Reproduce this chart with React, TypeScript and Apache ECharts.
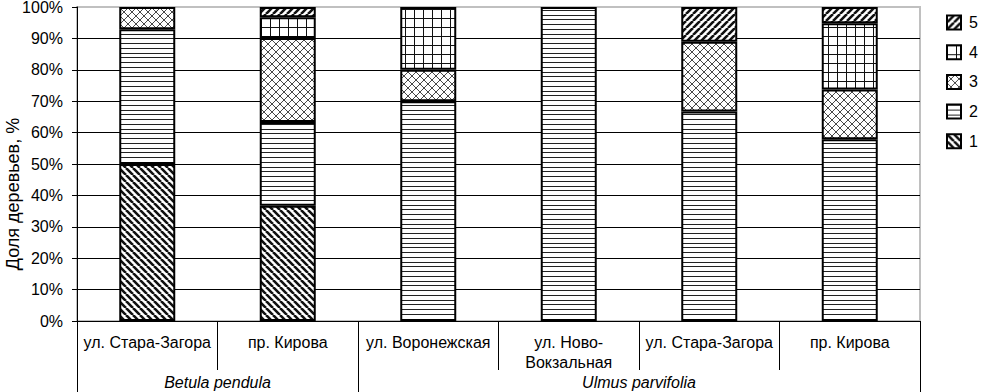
import React, { useEffect, useRef } from "react";
import * as echarts from "echarts";

const categories = [
  "ул. Стара-Загора",
  "пр. Кирова",
  "ул. Воронежская",
  "ул. Ново-\nВокзальная",
  "ул. Стара-Загора",
  "пр. Кирова",
];
const groupLabels = ["Betula pendula", "Ulmus parvifolia"];
const seriesNames = ["1", "2", "3", "4", "5"];
const s1 = [50, 36.7, null, null, null, null];
const s2 = [42.9, 26.7, 70, 100, 66.7, 57.9];
const s3 = [7.1, 26.7, 10, null, 22.2, 15.8];
const s4 = [null, 6.6, 20, null, null, 21.1];
const s5 = [null, 3.3, null, null, 11.1, 5.2];
const yTicks = [0, 10, 20, 30, 40, 50, 60, 70, 80, 90, 100];

const FONT = "'Liberation Sans', Arial, sans-serif";

function makePattern(w: number, h: number, draw: (ctx: CanvasRenderingContext2D) => void) {
  const c = document.createElement("canvas");
  c.width = w;
  c.height = h;
  const ctx = c.getContext("2d")!;
  ctx.fillStyle = "#fff";
  ctx.fillRect(0, 0, w, h);
  draw(ctx);
  return { image: c, repeat: "repeat" } as any;
}

export default function App() {
  const ref = useRef<HTMLDivElement>(null);
  useEffect(() => {
    if (!ref.current) return;
    const chart = echarts.init(ref.current, undefined, { renderer: "svg" });

    const diag = (dir: number, s: number, lw: number, col: string) =>
      makePattern(s, s, (ctx) => {
        ctx.strokeStyle = col;
        ctx.lineWidth = lw;
        ctx.beginPath();
        for (const k of [-1, 0, 1]) {
          if (dir > 0) {
            ctx.moveTo(k * s, 0);
            ctx.lineTo(k * s + s, s);
          } else {
            ctx.moveTo(k * s, s);
            ctx.lineTo(k * s + s, 0);
          }
        }
        ctx.stroke();
      });

    const p1 = diag(1, 7, 2.6, "#111");
    const p5 = diag(-1, 7, 2.6, "#111");
    const p2 = makePattern(4, 19, (ctx) => {
      ctx.fillStyle = "#222";
      for (const y of [0, 5, 10, 15]) ctx.fillRect(0, y, 4, 1);
    });
    const p3 = makePattern(8, 8, (ctx) => {
      ctx.strokeStyle = "#333";
      ctx.lineWidth = 0.9;
      ctx.beginPath();
      for (const k of [-1, 0, 1]) {
        ctx.moveTo(k * 8, 0);
        ctx.lineTo(k * 8 + 8, 8);
        ctx.moveTo(k * 8, 8);
        ctx.lineTo(k * 8 + 8, 0);
      }
      ctx.stroke();
    });
    const p4 = makePattern(9, 9, (ctx) => {
      ctx.fillStyle = "#111";
      ctx.fillRect(0, 0, 9, 1);
      ctx.fillRect(0, 0, 1, 9);
    });
    const patterns = [p1, p2, p3, p4, p5];
    const data = [s1, s2, s3, s4, s5];

    const splitColors = yTicks.map((v) => (v === 100 ? "#c0c0c0" : "#000"));

    chart.setOption({
      animation: false,
      textStyle: { fontFamily: FONT },
      grid: {
        left: 77,
        right: 61,
        top: 7,
        bottom: 71,
        outerBoundsMode: "none",
        containLabel: false,
        show: true,
        borderColor: "#c0c0c0",
        borderWidth: 2,
        backgroundColor: "transparent",
      },
      legend: {
        orient: "vertical",
        left: 941,
        top: 9.5,
        itemWidth: 14,
        itemHeight: 14,
        itemGap: 13.7,
        data: ["5", "4", "3", "2", "1"],
        icon: "rect",
        itemStyle: { borderColor: "#000", borderWidth: 2 },
        textStyle: { fontSize: 16, color: "#000", fontFamily: FONT, padding: [0, 0, 0, 3] },
      },
      xAxis: [
        {
          type: "category",
          data: categories,
          axisLine: { lineStyle: { color: "#000", width: 1 } },
          axisTick: { show: true, length: 49, interval: 0, lineStyle: { color: "#000" } },
          axisLabel: {
            interval: 0,
            color: "#000",
            fontSize: 16,
            fontFamily: FONT,
            margin: 11,
            lineHeight: 20,
          },
          splitLine: { show: false },
        },
        {
          type: "value",
          position: "bottom",
          min: 0,
          max: 6,
          axisLine: { show: false },
          axisTick: {
            show: true,
            length: 71,
            customValues: [0, 2, 6],
            lineStyle: { color: "#000" },
          },
          axisLabel: {
            customValues: [1, 4],
            formatter: (v: number) => (v === 1 ? groupLabels[0] : groupLabels[1]),
            color: "#000",
            fontSize: 16,
            fontStyle: "italic",
            fontFamily: FONT,
            margin: 53,
          },
          splitLine: { show: false },
        },
      ],
      yAxis: {
        type: "value",
        min: 0,
        max: 100,
        interval: 10,
        name: "Доля деревьев, %",
        nameLocation: "middle",
        nameGap: 55,
        nameMoveOverlap: false,
        nameTextStyle: {
          fontSize: 18,
          color: "#000",
          fontFamily: FONT,
          padding: [0, 60, 0, 0],
        },
        axisLine: { show: true, lineStyle: { color: "#000" } },
        axisTick: { show: true, length: 5, lineStyle: { color: "#000" } },
        axisLabel: {
          formatter: "{value}%",
          color: "#000",
          fontSize: 16,
          fontFamily: FONT,
          margin: 14,
        },
        splitLine: { show: true, lineStyle: { color: splitColors, width: 1 } },
      },
      series: seriesNames.map((name, i) => ({
        name,
        type: "bar",
        stack: "total",
        xAxisIndex: 0,
        barWidth: 56,
        data: data[i],
        itemStyle: { color: patterns[i], borderColor: "#000", borderWidth: 2 },
        emphasis: { disabled: true },
      })),
    });
    return () => chart.dispose();
  }, []);
  return (
    <div
      ref={ref}
      style={{ position: "fixed", left: 0, top: 0, width: 981, height: 392, background: "#fff" }}
    />
  );
}
